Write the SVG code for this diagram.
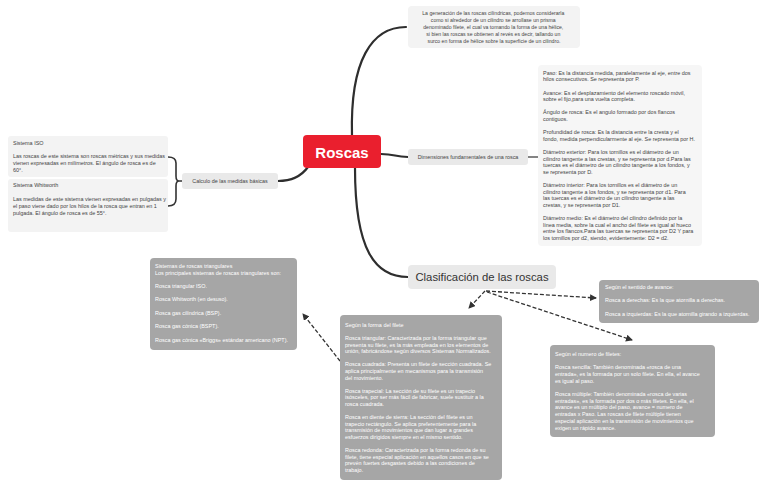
<svg xmlns="http://www.w3.org/2000/svg" width="768" height="486" viewBox="0 0 768 486">
<style>
.p{font-family:"Liberation Sans",Arial,sans-serif;font-size:5.45px;fill:#444}
.w{fill:#fff}
.lb{fill:#f3f3f3}
.nb{fill:#e9e9e9}
.gb{fill:#a6a6a6}
.k{fill:none;stroke:#2e2e2e;stroke-width:2.2;stroke-linecap:round}
.d{fill:none;stroke:#333;stroke-width:1.3;stroke-dasharray:4 2}
.c{text-anchor:middle}
</style>
<defs>
<marker id="ah" markerUnits="userSpaceOnUse" markerWidth="7" markerHeight="7" refX="6" refY="3.5" orient="auto">
<path d="M0,0 L7,3.5 L0,7 Z" fill="#333"/>
</marker>
</defs>
<rect width="768" height="486" fill="#fff"/>

<g id="connectors">
<path class="k" d="M352,135 C350,60 372,27 406,27"/>
<path class="k" d="M355,168 C355,250 375,277 408,277"/>
<path class="k" d="M381,154 C396,154 394,157 408,157"/>
<path class="k" d="M308,167 C300,178 290,181 278,181"/>
<path fill="none" stroke="#333" stroke-width="1.2" d="M528,157 L540,157"/>
<path fill="none" stroke="#333" stroke-width="1.6" d="M182,181 L178,181 M168,157 Q176,157 176,163 L176,176 Q176,181 179,181 Q176,181 176,186 L176,199 Q176,206 168,206"/>
<path class="d" d="M485,291 L469,308" marker-end="url(#ah)"/>
<path class="d" d="M486,291 L596,298" marker-end="url(#ah)"/>
<path class="d" d="M487,292 L632,340" marker-end="url(#ah)"/>
<path class="d" d="M340,361 L303,314" marker-end="url(#ah)"/>
</g>

<g id="root">
<rect x="303" y="135" width="78" height="33" rx="4" fill="#ea1f2e"/>
<text x="342" y="157.5" class="c" style="font-family:'Liberation Sans',Arial,sans-serif;font-size:15px;font-weight:bold;fill:#fff">Roscas</text>
</g>

<g id="intro">
<rect x="408" y="6" width="172" height="42" rx="4" class="lb"/>
<text class="p c" style="font-size:5.15px">
<tspan x="494" y="15.3">La generación de las roscas cilíndricas, podemos considerarla</tspan>
<tspan x="494" y="22.1">como si alrededor de un cilindro se arrollase un prisma</tspan>
<tspan x="494" y="28.9">denominado filete, el cual va tomando la forma de una hélice,</tspan>
<tspan x="494" y="35.7">si bien las roscas se obtienen al revés es decir, tallando un</tspan>
<tspan x="494" y="42.5">surco en forma de hélice sobre la superficie de un cilindro.</tspan>
</text>
</g>

<g id="dimensiones">
<rect x="408" y="149" width="120" height="16" rx="3" class="nb"/>
<text x="468" y="159" class="p c" style="font-size:5.4px">Dimensiones fundamentales de una rosca</text>
</g>

<g id="dimensiones-detalle">
<rect x="538" y="65" width="164" height="181" rx="4" fill="#f6f6f6"/>
<text class="p">
<tspan x="543" y="74.8">Paso: Es la distancia medida, paralelamente al eje, entre dos</tspan>
<tspan x="543" y="81.4">hilos consecutivos. Se representa por P.</tspan>
<tspan x="543" y="94.6">Avance: Es el desplazamiento del elemento roscado móvil,</tspan>
<tspan x="543" y="101.2">sobre el fijo,para una vuelta completa.</tspan>
<tspan x="543" y="114.4">Ángulo de rosca: Es el angulo formado por dos flancos</tspan>
<tspan x="543" y="121">contiguos.</tspan>
<tspan x="543" y="134.2">Profundidad de rosca: Es la distancia entre la cresta y el</tspan>
<tspan x="543" y="140.8">fondo, medida perpendicularmente al eje. Se representa por H.</tspan>
<tspan x="543" y="154">Diámetro exterior: Para los tornillos es el diámetro de un</tspan>
<tspan x="543" y="160.6">cilindro tangente a las crestas, y se representa por d.Para las</tspan>
<tspan x="543" y="167.2">tuercas es el diámetro de un cilindro tangente a los fondos, y</tspan>
<tspan x="543" y="173.8">se representa por D.</tspan>
<tspan x="543" y="187">Diámetro interior:  Para los tornillos es el diámetro de un</tspan>
<tspan x="543" y="193.6">cilindro tangente a los fondos, y se representa por d1. Para</tspan>
<tspan x="543" y="200.2">las tuercas es el diámetro de un cilindro tangente a las</tspan>
<tspan x="543" y="206.8">crestas, y se representa por D1.</tspan>
<tspan x="543" y="220">Diámetro medio: Es el diámetro del cilindro definido por la</tspan>
<tspan x="543" y="226.6">línea media, sobre la cual el ancho del filete es igual al hueco</tspan>
<tspan x="543" y="233.2">entre los flancos.Para las tuercas se representa por D2 Y para</tspan>
<tspan x="543" y="239.8">los tornillos por d2, siendo, evidentemente: D2 = d2.</tspan>
</text>
</g>

<g id="calculo">
<rect x="182" y="173" width="96" height="16" rx="3" class="nb"/>
<text x="230" y="183" class="p c" style="font-size:5.4px">Calculo de las medidas básicas</text>
</g>

<g id="sistema-iso">
<rect x="8" y="136" width="160" height="41" rx="3" class="lb"/>
<text class="p">
<tspan x="13" y="144.8">Sistema ISO</tspan>
<tspan x="13" y="158.2">Las roscas de este sistema son roscas métricas y sus medidas</tspan>
<tspan x="13" y="164.9">vienen expresadas en milímetros. El ángulo de rosca es de</tspan>
<tspan x="13" y="171.6">60°.</tspan>
</text>
</g>

<g id="sistema-whitworth">
<rect x="8" y="179" width="160" height="53" rx="3" class="lb"/>
<text class="p">
<tspan x="13" y="186.8">Sistema Whitworth</tspan>
<tspan x="13" y="201.2">Las medidas de este sistema vienen expresadas en pulgadas y</tspan>
<tspan x="13" y="207.9">el paso viene dado por los hilos de la rosca que entran en 1</tspan>
<tspan x="13" y="214.6">pulgada. El ángulo de rosca es de 55°.</tspan>
</text>
</g>

<g id="clasificacion">
<rect x="408" y="265" width="148" height="24" rx="4" class="nb"/>
<text x="482" y="281" class="c" style="font-family:'Liberation Sans',Arial,sans-serif;font-size:11.3px;fill:#333">Clasificación de las roscas</text>
</g>

<g id="sistemas-triangulares">
<rect x="150" y="258" width="147" height="92" rx="4" class="gb"/>
<text class="p w">
<tspan x="155" y="267.8">Sistemas de roscas triangulares</tspan>
<tspan x="155" y="274.5">Los principales sistemas de roscas triangulares son:</tspan>
<tspan x="155" y="287.9">Rosca triangular ISO.</tspan>
<tspan x="155" y="301.3"> Rosca Whitworth (en desuso).</tspan>
<tspan x="155" y="314.7">Rosca gas cilíndrica (BSP).</tspan>
<tspan x="155" y="328.1">Rosca gas cónica (BSPT).</tspan>
<tspan x="155" y="341.5">Rosca gas cónica «Briggs» estándar americano (NPT).</tspan>
</text>
</g>

<g id="forma-filete">
<rect x="340" y="315" width="162" height="165" rx="4" class="gb"/>
<text class="p w">
<tspan x="345" y="326.8">Según la forma del filete</tspan>
<tspan x="345" y="340">Rosca triangular: Caracterizada por la forma triangular que</tspan>
<tspan x="345" y="346.6">presenta su filete, es la más empleada en los elementos de</tspan>
<tspan x="345" y="353.2">unión, fabricándose según diversos Sistemas Normalizados.</tspan>
<tspan x="345" y="366.4">Rosca cuadrada: Presenta un filete de sección cuadrada. Se</tspan>
<tspan x="345" y="373">aplica principalmente en mecanismos para la transmisión</tspan>
<tspan x="345" y="379.6">del movimiento.</tspan>
<tspan x="345" y="392.8">Rosca trapecial: La sección de su filete es un trapecio</tspan>
<tspan x="345" y="399.4">isósceles, por ser más fácil de fabricar, suele sustituir a la</tspan>
<tspan x="345" y="406">rosca cuadrada.</tspan>
<tspan x="345" y="419.2">Rosca en diente de sierra: La sección del filete es un</tspan>
<tspan x="345" y="425.8">trapecio rectángulo. Se aplica preferentemente para la</tspan>
<tspan x="345" y="432.4">transmisión de movimientos que dan lugar a grandes</tspan>
<tspan x="345" y="439">esfuerzos dirigidos siempre en el mismo sentido.</tspan>
<tspan x="345" y="452.2">Rosca redonda: Caracterizada por la forma redonda de su</tspan>
<tspan x="345" y="458.8">filete, tiene especial aplicación en aquellos casos en que se</tspan>
<tspan x="345" y="465.4">prevén fuertes desgastes debido a las condiciones de</tspan>
<tspan x="345" y="472">trabajo.</tspan>
</text>
</g>

<g id="sentido-avance">
<rect x="599" y="280" width="160" height="43" rx="4" class="gb"/>
<text class="p w">
<tspan x="605" y="288.8">Según el sentido de avance:</tspan>
<tspan x="605" y="302.2">Rosca a derechas: Es la que atornilla a derechas.</tspan>
<tspan x="605" y="315.6">Rosca a izquierdas: Es la que atornilla girando a izquierdas.</tspan>
</text>
</g>

<g id="numero-filetes">
<rect x="550" y="345" width="165" height="92" rx="4" class="gb"/>
<text class="p w">
<tspan x="555" y="355.8">Según el numero de filetes:</tspan>
<tspan x="555" y="369.2">Rosca sencilla: También denominada «rosca de una</tspan>
<tspan x="555" y="375.9">entrada», es la formada por un solo filete. En ella, el avance</tspan>
<tspan x="555" y="382.6">es igual al paso.</tspan>
<tspan x="555" y="396">Rosca múltiple: También denominada «rosca de varias</tspan>
<tspan x="555" y="402.7">entradas», es la formada por dos o más filetes. En ella, el</tspan>
<tspan x="555" y="409.4">avance es un múltiplo del paso, avance = numero de</tspan>
<tspan x="555" y="416.1">entradas x Paso. Las roscas de filete múltiple tienen</tspan>
<tspan x="555" y="422.8">especial aplicación en la transmisión de movimientos que</tspan>
<tspan x="555" y="429.5">exigen un rápido avance.</tspan>
</text>
</g>
</svg>
